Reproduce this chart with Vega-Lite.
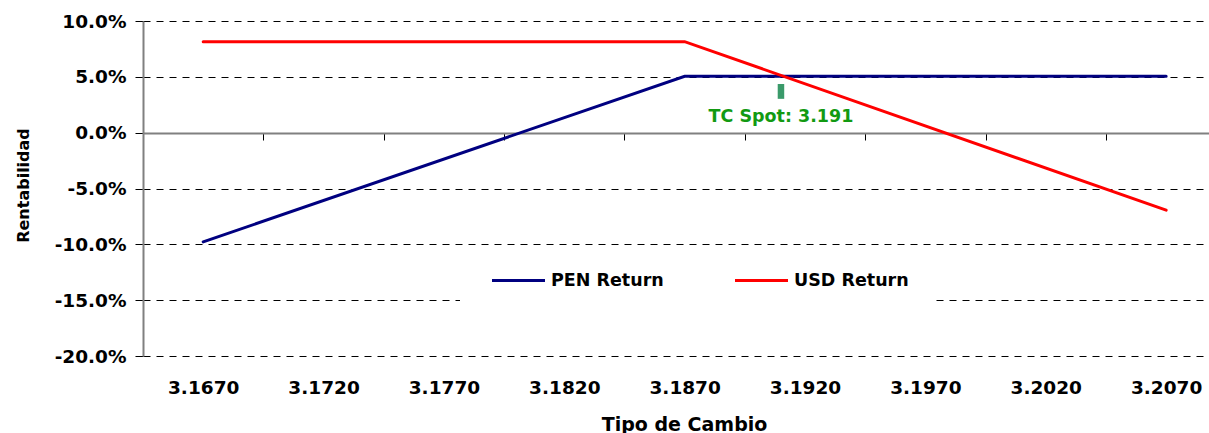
{
  "$schema": "https://vega.github.io/schema/vega-lite/v6.json",
  "autosize": {"type": "none"},
  "padding": {"left": 143, "top": 21, "right": 0, "bottom": 77},
  "width": 1066,
  "height": 335,
  "background": "white",
  "config": {
    "view": {"stroke": null},
    "font": "DejaVu Sans",
    "axis": {"labelFont": "DejaVu Sans", "labelFontWeight": "bold", "labelColor": "#000", "titleFont": "DejaVu Sans", "titleFontWeight": "bold", "titleColor": "#000"},
    "legend": {
      "orient": "none", "direction": "horizontal", "legendX": 317, "legendY": 226,
      "symbolType": "M-2.65,0H2.65", "symbolSize": 400, "symbolStrokeWidth": 3,
      "labelFont": "DejaVu Sans", "labelFontWeight": "bold", "labelFontSize": 17.5, "labelColor": "#000",
      "labelOffset": 21, "columnPadding": 65, "fillColor": "white", "padding": 22, "labelLimit": 300,
      "titleOrient": "left", "titlePadding": 25, "titleFontSize": 17.5, "titleColor": "#fff"
    }
  },
  "datasets": {
    "lines": [
      {"tc": 3.167, "ret": -0.0978, "serie": "PEN Return"},
      {"tc": 3.187, "ret": 0.0505, "serie": "PEN Return"},
      {"tc": 3.207, "ret": 0.0505, "serie": "PEN Return"},
      {"tc": 3.167, "ret": 0.0815, "serie": "USD Return"},
      {"tc": 3.187, "ret": 0.0815, "serie": "USD Return"},
      {"tc": 3.207, "ret": -0.0694, "serie": "USD Return"}
    ],
    "spot": [
      {"tc": 3.191, "lo": 0.0303, "hi": 0.0436, "ty": 0.0098, "label": "TC Spot: 3.191"}
    ]
  },
  "layer": [
    {
      "data": {"name": "lines"},
      "mark": {"type": "line", "strokeWidth": 3, "strokeCap": "round"},
      "encoding": {
        "x": {"field": "tc", "type": "quantitative",
              "scale": {"domain": [3.1645, 3.20878], "nice": false, "zero": false},
              "axis": {"orient": "bottom", "offset": -223, "values": [3.1645, 3.1695, 3.1745, 3.1795, 3.1845, 3.1895, 3.1945, 3.1995, 3.2045],
                       "labels": false, "grid": false, "title": null, "domainColor": "#808080", "domainWidth": 2,
                       "tickColor": "#000", "tickSize": 7, "tickWidth": 1}},
        "y": {"field": "ret", "type": "quantitative",
              "scale": {"domain": [-0.2, 0.1], "nice": false, "zero": false},
              "axis": {"values": [-0.2, -0.15, -0.1, -0.05, 0, 0.05, 0.1],
                       "labelExpr": "replace(format(datum.value, '.1%'), '−', '-')",
                       "labelFontSize": 18.5, "labelPadding": 9, "tickSize": 8, "tickColor": "#000", "tickWidth": 1,
                       "domainColor": "#808080", "domainWidth": 2,
                       "grid": true, "gridColor": "#000", "gridDash": [7, 6], "gridWidth": 1,
                       "title": "Rentabilidad", "titleFontSize": 16, "titleAngle": -90, "titleBaseline": "alphabetic",
                       "titleAlign": "center", "titleX": -115, "titleY": 164}},
        "color": {"field": "serie", "type": "nominal",
                  "scale": {"domain": ["PEN Return", "USD Return"], "range": ["#000080", "#FF0000"]},
                  "legend": {"title": " "}}
      }
    },
    {
      "data": {"name": "spot"},
      "mark": {"type": "rule", "strokeWidth": 6.5, "color": "#3a9a6a", "strokeCap": "butt"},
      "encoding": {
        "x": {"field": "tc", "type": "quantitative",
              "axis": {"orient": "bottom", "values": [3.167, 3.172, 3.177, 3.182, 3.187, 3.192, 3.197, 3.202, 3.207],
                       "format": ".4f", "domain": false, "ticks": false, "grid": false,
                       "labelFontSize": 18.5, "labelPadding": 22,
                       "title": "Tipo de Cambio", "titleFontSize": 19, "titleBaseline": "alphabetic",
                       "titleX": 541, "titleY": 74}},
        "y": {"field": "lo", "type": "quantitative"},
        "y2": {"field": "hi"}
      }
    },
    {
      "data": {"name": "spot"},
      "mark": {"type": "text", "font": "DejaVu Sans", "fontWeight": "bold", "fontSize": 17.5, "color": "#129a12", "align": "center", "baseline": "alphabetic"},
      "encoding": {
        "x": {"field": "tc", "type": "quantitative", "axis": null},
        "y": {"field": "ty", "type": "quantitative"},
        "text": {"field": "label"}
      }
    }
  ],
  "resolve": {"axis": {"x": "independent"}}
}
